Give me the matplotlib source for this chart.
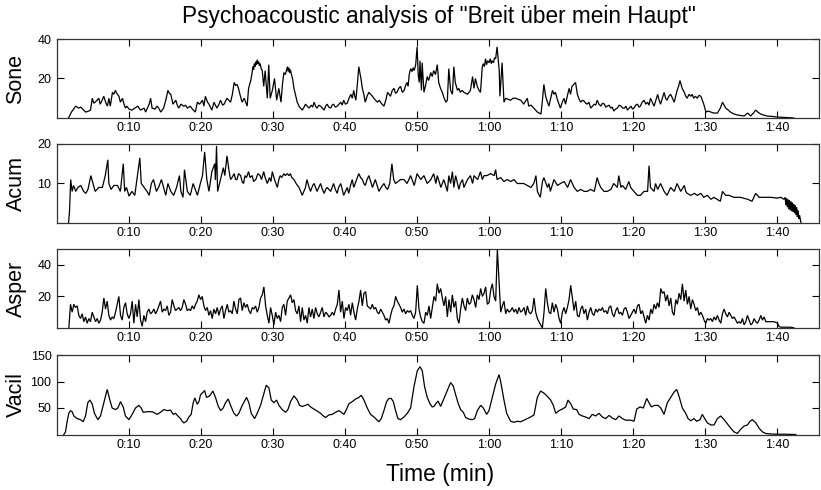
import numpy as np
import matplotlib
matplotlib.use("Agg")
import matplotlib.pyplot as plt
from matplotlib.ticker import FixedLocator, FuncFormatter

plt.rcParams["font.family"] = ["Liberation Sans", "DejaVu Sans"]

# ---- data: (seconds, value) samples ----
sone = [
    (1.6, 0), (2.0, 3), (2.6, 6), (3.0, 5), (3.3, 5.5), (3.7, 4), (4.0, 3), (4.4, 3.5),
    (4.65, 4), (4.9, 10), (5.1, 7.5), (5.3, 8), (5.55, 9), (5.8, 10), (6.0, 7), (6.2, 8.5),
    (6.5, 11), (6.75, 8), (7.0, 6), (7.2, 10), (7.4, 6), (7.7, 13), (7.9, 12), (8.1, 14),
    (8.3, 12.5), (8.6, 11), (8.8, 8), (9.1, 10), (9.3, 7), (9.5, 5), (9.7, 6), (10.0, 4.5),
    (10.4, 4), (10.8, 5), (11.2, 6), (11.6, 4), (12.1, 5), (12.3, 3), (12.8, 7), (13.0, 10),
    (13.2, 5), (13.6, 4.5), (13.9, 6), (14.2, 4.5), (14.4, 3), (14.8, 5), (15.1, 9), (15.4, 14),
    (15.6, 12.5), (15.8, 12), (16.1, 7), (16.5, 9), (16.7, 6.5), (16.9, 5), (17.2, 7),
    (17.6, 6), (17.85, 6.5), (18.1, 5), (18.5, 6), (18.8, 4.5), (19.2, 3), (19.5, 8), (19.8, 7),
    (20.2, 9), (20.4, 6), (20.6, 11), (20.9, 8), (21.1, 7), (21.5, 4), (21.8, 8), (22.0, 6.5),
    (22.2, 5), (22.5, 7), (22.7, 9), (23.0, 6.5), (23.2, 7), (23.4, 8.5), (23.6, 10), (23.85, 9),
    (24.1, 8), (24.35, 12), (24.6, 18), (24.8, 16.5), (25.0, 17), (25.2, 15), (25.4, 12),
    (25.7, 8), (26.0, 10), (26.2, 8), (26.4, 6), (26.6, 15), (26.9, 19), (27.05, 22),
    (27.2, 26), (27.3, 24.5), (27.4, 27.5), (27.5, 26), (27.6, 28.5), (27.7, 27), (27.8, 29.5),
    (27.9, 27.5), (28.0, 28.5), (28.1, 26.5), (28.2, 27.5), (28.35, 25), (28.5, 24), (28.7, 16),
    (28.9, 24), (29.2, 10), (29.4, 27), (29.6, 10), (29.9, 14), (30.2, 20), (30.5, 9),
    (30.8, 15), (31.1, 8), (31.3, 17), (31.5, 23), (31.7, 22), (31.85, 24), (32.0, 26),
    (32.1, 23.5), (32.2, 25.5), (32.3, 23), (32.4, 24.5), (32.55, 22), (32.7, 20), (32.9, 15),
    (33.1, 12), (33.35, 8), (33.6, 6), (33.8, 5), (34.05, 4), (34.3, 5.5), (34.5, 7),
    (34.75, 6), (35.0, 5), (35.3, 6.5), (35.5, 5.5), (35.7, 8), (35.9, 6), (36.1, 5),
    (36.35, 6.5), (36.6, 6), (36.85, 5), (37.1, 4), (37.3, 6), (37.5, 7), (37.75, 5.5),
    (38.0, 5), (38.2, 6.5), (38.4, 7), (38.65, 5.5), (38.9, 6), (39.15, 7), (39.4, 8),
    (39.6, 6.5), (39.8, 9), (40.05, 7), (40.3, 7.5), (40.55, 10), (40.8, 12), (41.0, 10),
    (41.2, 14), (41.35, 11), (41.5, 9), (41.7, 17), (41.9, 26), (42.05, 23), (42.2, 20),
    (42.4, 15), (42.6, 12), (42.8, 8), (43.05, 11), (43.3, 13), (43.55, 12), (43.8, 11),
    (44.1, 9.5), (44.5, 8), (44.75, 9), (45.0, 7.5), (45.4, 6), (45.65, 9), (45.9, 13),
    (46.1, 12), (46.3, 11), (46.55, 14), (46.8, 15), (47.0, 12.5), (47.2, 13), (47.45, 15),
    (47.7, 16), (47.95, 13), (48.2, 14), (48.4, 16.5), (48.6, 18), (48.75, 16), (48.9, 22),
    (49.1, 25), (49.3, 23.5), (49.45, 25.5), (49.6, 24), (49.8, 27), (50.0, 36), (50.15, 22),
    (50.3, 18), (50.4, 29), (50.6, 14), (50.7, 28), (50.95, 13), (51.2, 17), (51.4, 21),
    (51.6, 19), (51.9, 23), (52.1, 21), (52.3, 24), (52.55, 22), (52.8, 27), (53.0, 18),
    (53.25, 15), (53.5, 13), (53.75, 10), (54.0, 8), (54.2, 9), (54.4, 25), (54.65, 14),
    (54.9, 12), (55.1, 26), (55.3, 18), (55.6, 14), (55.8, 15), (56.0, 13), (56.25, 14),
    (56.5, 13), (56.75, 12.5), (57.0, 12), (57.2, 13), (57.4, 14), (57.7, 21), (57.9, 15),
    (58.1, 20), (58.35, 16), (58.6, 14), (58.8, 13), (59.05, 26), (59.2, 27.5), (59.35, 26),
    (59.5, 30), (59.65, 27), (59.8, 29), (60.0, 28), (60.15, 30), (60.3, 27.5), (60.4, 29),
    (60.6, 28), (60.75, 30.5), (60.9, 30), (61.1, 36), (61.4, 24), (61.5, 11), (61.8, 28),
    (62.06, 8), (62.3, 10), (62.6, 9.5), (63.0, 9), (63.3, 10), (63.7, 10), (64.0, 9.5),
    (64.4, 9), (64.8, 7), (65.05, 8.5), (65.3, 10), (65.5, 6), (65.8, 6.5), (66.2, 5),
    (66.7, 3), (67.2, 2), (67.4, 9), (67.6, 17), (67.85, 11), (68.1, 8), (68.3, 6), (68.55, 10),
    (68.8, 14), (69.0, 12), (69.2, 13), (69.5, 9), (69.9, 5), (70.15, 8), (70.4, 10),
    (70.6, 7), (70.85, 11), (71.1, 15), (71.3, 12), (71.5, 16), (72.0, 18), (72.25, 12),
    (72.5, 9.5), (72.7, 8), (72.95, 9), (73.2, 8.5), (73.4, 7.5), (73.6, 7), (73.85, 8),
    (74.1, 5), (74.35, 6), (74.6, 7), (74.8, 6.5), (75.0, 9), (75.25, 7), (75.5, 6), (75.75, 7.5),
    (76.0, 7), (76.2, 5.5), (76.4, 6), (76.65, 6.5), (76.9, 5), (77.1, 5.5), (77.3, 3.5),
    (77.55, 4.5), (77.8, 5), (78.05, 6.5), (78.3, 6), (78.55, 5), (78.8, 5), (79.0, 6),
    (79.2, 4), (79.45, 5), (79.7, 6), (79.9, 4.5), (80.1, 5), (80.35, 6.5), (80.6, 7),
    (80.8, 5.5), (81.0, 6), (81.25, 8), (81.5, 9), (81.75, 7), (82.0, 8), (82.2, 6.5),
    (82.4, 10), (82.65, 8), (82.9, 6), (83.15, 9), (83.4, 12), (83.6, 9), (83.8, 7),
    (84.05, 10), (84.3, 13), (84.5, 10), (84.7, 9), (84.95, 11), (85.2, 12), (85.45, 10),
    (85.7, 8), (85.9, 11), (86.1, 14), (86.3, 16), (86.5, 19), (86.8, 15), (87.1, 13),
    (87.3, 11), (87.5, 10), (87.75, 12), (88.0, 11), (88.2, 12), (88.4, 10), (88.65, 11),
    (88.9, 10), (89.15, 11.5), (89.4, 11), (89.6, 9), (89.8, 7), (90.1, 3), (90.4, 3.5),
    (90.8, 3), (91.2, 2.5), (91.7, 2.5), (92.1, 5), (92.4, 8), (92.85, 5), (93.2, 4), (93.5, 3),
    (94.0, 2), (94.5, 1.5), (95.0, 1.2), (95.4, 1), (95.9, 2.5), (96.3, 1), (96.7, 2.5),
    (97.0, 4), (97.3, 3), (97.7, 2), (98.1, 1.5), (98.6, 1), (99.3, 0.8), (100.0, 0.5),
    (101.0, 0.3), (102.3, 0),
]

acum = [
    (1.6, 0), (1.74, 3), (1.9, 11), (2.1, 8), (2.3, 9.5), (2.6, 8), (2.9, 9), (3.3, 9.5),
    (3.7, 8), (4.0, 7.5), (4.3, 8.5), (4.7, 12), (5.0, 10), (5.3, 8), (5.8, 9), (6.3, 9),
    (6.7, 12), (7.06, 16), (7.2, 10), (7.5, 8.5), (7.9, 9.5), (8.4, 9.5), (8.8, 8), (9.2, 15),
    (9.4, 8), (9.65, 9), (10.0, 6.8), (10.4, 8), (10.8, 7), (11.1, 11), (11.5, 16.5), (11.7, 10),
    (12.1, 9), (12.5, 8), (12.8, 7), (13.1, 10), (13.4, 11), (13.8, 8), (14.1, 9), (14.5, 11),
    (14.8, 9), (15.1, 7), (15.4, 10), (15.8, 8), (16.2, 7), (16.6, 9), (17.0, 12), (17.2, 8),
    (17.5, 6.5), (17.7, 13.5), (18.1, 8), (18.5, 7), (18.9, 10), (19.5, 7), (19.9, 10),
    (20.2, 12), (20.5, 18), (20.8, 11), (21.1, 8), (21.5, 13), (21.9, 15), (22.0, 11),
    (22.15, 19.5), (22.3, 8), (22.7, 11), (23.1, 14), (23.3, 12), (23.6, 17), (23.9, 13),
    (24.1, 11), (24.3, 11.5), (24.6, 12.5), (24.8, 11), (25.0, 11), (25.2, 12.5), (25.5, 12),
    (25.7, 10.5), (25.9, 10), (26.1, 12), (26.3, 11.5), (26.6, 13), (26.8, 11.5), (27.1, 12),
    (27.3, 10.5), (27.6, 11), (27.9, 12.5), (28.2, 12), (28.4, 11), (28.7, 13), (28.9, 11.5),
    (29.2, 10), (29.5, 11.5), (29.7, 10.5), (29.9, 13), (30.2, 11), (30.4, 10), (30.6, 9),
    (30.8, 11), (31.0, 12), (31.2, 11.5), (31.5, 12.5), (31.7, 12), (31.97, 12.5), (32.2, 12),
    (32.4, 12.5), (32.6, 11.5), (32.9, 11), (33.2, 10), (33.6, 9), (34.05, 7), (34.5, 9),
    (34.7, 11), (35.0, 9), (35.2, 8), (35.5, 9.5), (35.7, 10), (36.1, 8), (36.35, 9),
    (36.6, 10), (36.85, 8.5), (37.1, 7.5), (37.3, 8.5), (37.5, 9), (38.0, 8), (38.2, 9),
    (38.4, 10), (38.65, 8.5), (38.9, 7.5), (39.1, 9), (39.4, 10), (39.6, 8.5), (39.8, 7),
    (40.05, 8), (40.3, 9), (40.5, 7.5), (40.75, 9.5), (41.0, 11), (41.2, 9), (41.5, 10.5),
    (41.9, 12.5), (42.15, 11.5), (42.4, 11), (42.6, 10), (42.8, 9.5), (43.05, 11), (43.3, 12),
    (43.55, 10.5), (43.8, 9), (44.0, 10), (44.2, 11), (44.45, 9.5), (44.7, 8), (45.0, 9),
    (45.4, 10), (45.65, 9), (45.9, 8.5), (46.2, 10), (46.5, 15), (46.75, 11), (47.0, 10),
    (47.35, 10.5), (47.7, 11),
    (48.17, 11), (48.6, 10), (49.1, 12), (49.6, 9.5), (50.0, 12.5), (50.5, 11), (50.95, 12),
    (51.4, 10), (51.9, 11), (52.3, 12.5), (52.6, 10), (52.8, 12), (53.3, 9), (53.7, 11),
    (53.96, 9.5), (54.2, 8), (54.4, 12), (54.65, 10), (54.9, 13), (55.1, 9), (55.35, 12),
    (55.8, 8.5), (56.0, 10), (56.3, 11), (56.5, 9), (57.0, 11), (57.4, 12), (57.7, 10),
    (57.9, 12), (58.4, 11), (58.8, 13), (59.05, 11), (59.3, 12), (59.7, 12), (60.2, 12.5),
    (60.7, 12), (60.9, 13.5), (61.1, 11), (61.6, 11.5), (62.06, 10.5), (62.5, 11), (63.0, 10.5),
    (63.45, 11), (63.9, 10), (64.4, 10), (64.8, 10), (65.3, 9.5), (65.8, 9), (66.2, 10),
    (66.5, 12), (66.7, 8), (67.1, 6.5), (67.4, 10.5), (67.6, 11.5), (68.1, 9), (68.3, 10),
    (68.5, 8), (69.0, 11), (69.5, 9.5), (69.9, 10), (70.4, 10.5), (70.9, 9), (71.3, 11),
    (71.8, 9), (72.25, 8), (72.7, 8.5), (73.2, 8), (73.6, 8), (74.1, 8.5), (74.6, 8),
    (75.0, 11.5), (75.25, 10), (75.5, 9), (75.95, 8), (76.4, 8), (76.9, 8.5), (77.3, 10),
    (77.8, 9), (78.0, 12), (78.3, 9), (78.5, 9.5), (78.96, 8.5), (79.4, 10.5), (79.65, 9),
    (80.1, 8), (80.6, 7), (81.0, 7), (81.5, 8), (82.0, 8), (82.2, 14.5), (82.4, 9), (82.9, 8),
    (83.1, 10), (83.4, 8.5), (83.8, 10), (84.3, 8), (84.7, 7), (85.2, 9), (85.7, 8), (86.1, 10),
    (86.6, 8), (87.1, 9.5), (87.3, 8), (87.5, 7.5), (88.0, 7), (88.5, 7.5), (88.9, 7),
    (89.4, 7.5), (89.8, 6.5), (90.3, 7), (90.8, 6), (91.2, 6.5), (92.1, 5.5), (92.4, 8),
    (92.85, 7), (93.3, 7), (94.0, 6.5), (94.9, 6.5), (95.9, 6), (96.5, 5.5), (97.0, 7.5),
    (97.5, 6.5), (98.2, 6.5), (99.1, 6.5), (100.0, 6.3), (100.5, 6.5), (100.95, 6),
    (101.1, 6.5), (101.2, 4.5), (101.3, 6.3), (101.4, 4), (101.5, 6), (101.6, 3.5), (101.7, 5.8),
    (101.8, 3.2), (101.9, 5.5), (102.0, 3), (102.1, 5.2), (102.2, 2.8), (102.3, 4.8),
    (102.4, 2.5), (102.5, 4.5), (102.6, 2), (102.7, 4), (102.8, 1.5), (102.9, 3.2), (103.0, 1),
    (103.1, 2), (103.3, 0),
]

# roughness is sampled on a fixed hop
asper_t0 = 1.644
asper_dt = 0.2315
asper_v = [
    0, 15, 10, 15, 13, 14, 8, 6, 9, 4, 7, 3, 6, 4, 10, 7, 4, 6, 3, 5,
    10, 19, 12, 17, 8, 5, 7, 6, 10, 15, 20, 8, 5, 13, 16, 9, 6, 9, 17, 3,
    15, 7, 18, 5, 1, 8, 4, 10, 12, 9, 10, 12, 9, 11, 14, 17, 10, 12, 11, 14,
    8, 10, 18, 14, 11, 12, 13, 11, 13, 18, 15, 11, 12, 11, 14, 12, 15, 17, 21, 18,
    20, 14, 11, 13, 8, 11, 6, 12, 9, 13, 8, 12, 14, 6, 11, 15, 10, 11, 9, 17,
    12, 9, 18, 19, 11, 16, 13, 15, 11, 9, 13, 12, 14, 10, 13, 19, 21, 26, 14, 8,
    3, 13, 8, 2, 10, 6, 8, 4, 13, 15, 8, 17, 19, 21, 16, 18, 11, 9, 14, 4,
    13, 5, 8, 3, 13, 7, 12, 6, 13, 9, 7, 10, 13, 7, 10, 9, 7, 8, 10, 8,
    12, 15, 24, 10, 17, 6, 13, 11, 15, 8, 16, 10, 5, 12, 17, 24, 14, 22, 23, 14,
    13, 12, 15, 12, 13, 10, 9, 12, 10, 8, 5, 6, 3, 8, 12, 14, 20, 17, 15, 13,
    10, 12, 9, 11, 10, 11, 8, 6, 10,
    27, 12, 7, 4, 3, 10, 8, 14, 6, 13, 20, 17, 28, 22, 25, 19, 14, 20, 7, 18,
    10, 21, 13, 17, 6, 3, 12, 19, 14, 11, 19, 15, 16, 21, 18, 13, 21, 18, 25, 20,
    22, 26, 15, 16, 24, 28, 20, 17, 50, 30, 10, 14, 17, 9, 12, 10, 11, 13, 10, 12,
    9, 13, 10, 11, 13, 8, 14, 10, 9, 11, 19, 10, 6, 4, 2, 0, 10, 25, 16, 10,
    9, 16, 10, 15, 12, 6, 3, 10, 13, 9, 13, 18, 27, 19, 11, 17, 8, 7, 12, 14,
    9, 12, 5, 10, 13, 9, 8, 12, 10, 12, 11, 13, 10, 11, 9, 13, 14, 9, 7, 11,
    13, 9, 10, 8, 12, 13, 10, 6, 8, 10, 12, 9, 14, 15, 9, 11, 7, 3, 8, 5,
    12, 9, 15, 12, 16, 13, 25, 22, 23, 17, 21, 14, 19, 10, 8, 18, 15, 22, 18, 28,
    17, 24, 15, 20, 12, 18, 15, 11, 13, 8, 10, 8, 5, 3, 6, 5, 6, 4, 7, 5,
    8, 5, 3, 9, 12, 9, 7, 10, 8, 6, 7, 5, 3, 4, 3, 6, 2, 4, 8, 5,
    2, 3, 6, 4, 3, 5, 8, 5, 7, 4, 4, 4, 4, 4, 4, 3.5, 3, 1, 0.5, 0.5,
    0.5, 0.5, 0.5, 0.5, 0.5, 0.3, 0,
]

vacil = [
    (0.95, 0), (1.18, 5), (1.41, 25), (1.64, 40), (1.875, 45), (2.1, 43), (2.34, 35), (2.8, 30),
    (3.26, 28), (3.63, 24), (3.96, 35), (4.28, 60), (4.56, 65), (4.88, 58), (5.2, 40),
    (5.67, 28), (6.04, 35), (6.5, 60), (6.97, 85), (7.34, 65), (7.66, 50), (8.13, 47),
    (8.45, 50), (8.82, 62), (9.19, 52), (9.5, 35), (9.98, 28), (10.44, 38), (10.9, 50),
    (11.36, 55), (11.69, 50), (11.97, 42), (12.52, 43), (13.22, 43), (13.91, 38), (14.38, 42),
    (14.84, 47), (15.3, 45), (15.76, 46), (16.13, 38), (16.46, 40), (16.78, 35), (17.15, 30),
    (17.38, 25), (17.62, 22), (17.99, 25), (18.31, 33), (18.63, 38), (18.91, 60), (19.14, 69),
    (19.47, 57), (19.7, 62), (19.93, 75), (20.3, 80), (20.49, 83), (20.76, 70), (21.09, 72),
    (21.32, 75), (21.64, 82), (22.01, 70), (22.34, 55), (22.71, 45), (23.08, 50), (23.4, 60),
    (23.77, 67), (24.1, 55), (24.56, 40), (24.93, 35), (25.25, 40), (25.72, 55), (26.32, 70),
    (26.64, 60), (26.97, 40), (27.43, 30), (27.8, 40), (28.26, 55), (28.73, 78), (29.05, 93),
    (29.42, 88), (29.75, 65), (30.12, 60), (30.49, 65), (30.81, 55), (31.27, 47), (31.74, 42),
    (32.06, 47), (32.43, 62), (32.9, 73), (33.36, 65), (33.68, 55), (34.05, 53), (34.51, 55),
    (34.84, 57), (35.21, 52), (35.67, 48), (36.13, 44), (36.6, 40), (36.97, 35), (37.29, 32),
    (37.75, 37), (38.22, 38), (38.68, 42), (39.14, 45), (39.47, 42), (39.84, 38), (40.21, 48),
    (40.53, 58), (41.0, 62), (41.46, 67), (41.92, 70), (42.25, 74), (42.62, 65), (43.08, 50),
    (43.54, 38), (44.01, 33), (44.47, 27), (44.7, 24), (45.02, 30), (45.39, 45), (45.76, 62),
    (46.09, 68), (46.41, 68), (46.69, 62), (47.01, 45), (47.34, 30), (47.7, 28), (48.17, 33),
    (48.64, 40), (49.1, 50), (49.56, 90), (50.02, 120), (50.4, 128), (50.72, 120), (51.04, 90),
    (51.41, 70), (51.78, 58), (52.1, 52), (52.34, 53), (52.71, 60), (52.9, 63), (53.27, 53),
    (53.64, 65), (54.1, 80), (54.65, 98), (55.0, 92), (55.35, 75), (55.67, 60), (56.04, 47),
    (56.41, 42), (56.74, 32), (57.2, 29), (57.66, 28), (57.99, 30), (58.36, 45), (58.82, 55),
    (59.19, 50), (59.65, 38), (59.98, 45), (60.44, 70), (60.9, 95), (61.37, 113), (61.6, 100),
    (62.06, 65), (62.43, 40), (62.99, 25), (63.45, 23), (63.91, 25), (64.38, 24), (64.84, 27),
    (65.3, 30), (65.76, 33), (66.23, 37), (66.69, 70), (67.15, 82), (67.62, 78), (68.08, 72),
    (68.54, 65), (68.91, 55), (69.24, 40), (69.7, 45), (70.16, 48), (70.63, 52), (70.95, 65),
    (71.32, 58), (71.69, 48), (72.15, 47), (72.48, 38), (72.94, 35), (73.4, 33), (73.87, 30),
    (74.33, 38), (74.79, 35), (75.26, 40), (75.72, 33), (76.18, 30), (76.65, 36), (77.11, 31),
    (77.57, 28), (78.03, 35), (78.5, 30), (78.96, 27), (79.65, 27), (80.12, 25), (80.49, 48),
    (80.95, 52), (81.41, 50), (81.88, 68), (82.2, 60), (82.53, 52), (82.99, 55), (83.45, 55),
    (83.82, 50), (84.28, 38), (84.75, 60), (85.3, 72), (85.67, 80), (86.04, 85), (86.37, 72),
    (86.83, 50), (87.29, 40), (87.62, 30), (87.99, 26), (88.45, 30), (88.82, 25), (89.28, 28),
    (89.6, 38), (89.93, 30), (90.3, 22), (90.77, 18), (91.23, 18), (91.69, 30), (92.15, 35),
    (92.62, 28), (93.08, 20), (93.54, 12), (94.0, 5), (94.47, 2), (94.93, 10), (95.4, 16),
    (95.86, 18), (96.23, 25), (96.55, 28), (97.02, 22), (97.48, 12), (97.94, 5), (98.4, 2),
    (99.1, 1), (100.0, 0.5), (100.95, 0.5), (102.57, 0),
]

panel_names = ["Sone", "Acum", "Asper", "Vacil"]
panel_ylims = [40, 20, 50, 150]
panel_yticks = [[20, 40], [10, 20], [20, 40], [50, 100, 150]]
time_ticks = [10, 20, 30, 40, 50, 60, 70, 80, 90, 100]
t_max = 105.8


def mmss(sec, _pos=None):
    sec = int(round(sec))
    return f"{sec // 60}:{sec % 60:02d}"


asper_t = asper_t0 + asper_dt * np.arange(len(asper_v))
series = [
    (np.array([p[0] for p in sone]), np.array([p[1] for p in sone])),
    (np.array([p[0] for p in acum]), np.array([p[1] for p in acum])),
    (asper_t, np.array(asper_v, dtype=float)),
    (np.array([p[0] for p in vacil]), np.array([p[1] for p in vacil])),
]

W, H = 821, 490
fig = plt.figure(figsize=(W / 100, H / 100), dpi=100)

left_px, right_px = 57, 819
panel_px = [(39, 118), (144, 223), (249, 328), (355, 434.5)]

for i, ((top, bot), name) in enumerate(zip(panel_px, panel_names)):
    ax = fig.add_axes([left_px / W, 1 - bot / H, (right_px - left_px) / W, (bot - top) / H])
    t, v = series[i]
    ax.plot(t, v, color="black", lw=0.9, solid_joinstyle="miter")
    ax.set_xlim(0, t_max)
    ax.set_ylim(0, panel_ylims[i])
    ax.xaxis.set_major_locator(FixedLocator(time_ticks))
    ax.xaxis.set_major_formatter(FuncFormatter(mmss))
    ax.yaxis.set_major_locator(FixedLocator(panel_yticks[i]))
    ax.tick_params(axis="both", direction="in", length=5, width=0.8,
                   top=True, right=True, labelsize=9, colors="black")
    ax.tick_params(axis="x", pad=3)
    ax.tick_params(axis="y", pad=4)
    for sp in ax.spines.values():
        sp.set_linewidth(0.9)
        sp.set_color("#333333")
    fig.text(16 / W, 1 - (top + bot) / 2 / H, name, rotation=90, ha="center",
             va="center", fontsize=15.5)

fig.text(439 / W, 1 - 16 / H, 'Psychoacoustic analysis of "Breit über mein Haupt"',
         ha="center", va="center", fontsize=16.3)
fig.text(440 / W, 1 - 474 / H, "Time (min)", ha="center", va="center", fontsize=16.5)

fig.savefig("out.png", dpi=100)
